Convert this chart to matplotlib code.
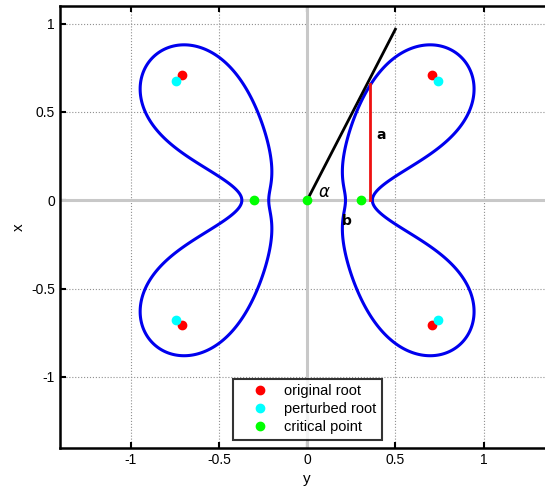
import numpy as np
import matplotlib.pyplot as plt

plt.rcParams['font.family'] = ['Liberation Sans', 'DejaVu Sans']

# roots of the original polynomial z^4 + 1
orig_re = [0.707, 0.707, -0.707, -0.707]
orig_im = [0.707, -0.707, 0.707, -0.707]
# perturbed roots
pert_re = [0.74, 0.74, -0.74, -0.74]
pert_im = [0.675, -0.675, 0.675, -0.675]
# critical points of the perturbed polynomial
crit_re = [-0.303, 0.0, 0.303]
crit_im = [0.0, 0.0, 0.0]
level = 1.0

# tangent line and the a / b segment
tan_x = [0, 0.5]
tan_y = [0, 0.968]
seg_x = [0.355, 0.355]
seg_y = [0, 0.66]

fig = plt.figure(figsize=(5.45, 4.93), dpi=100)
ax = fig.add_axes([0.110, 0.092, 0.907, 0.896])

# lemniscate |p(z)| = 1
coef = np.poly(np.array(pert_re) + 1j * np.array(pert_im))
gx, gy = np.meshgrid(np.linspace(-1.4, 1.4, 801), np.linspace(-1.4, 1.4, 801))
val = np.abs(np.polyval(coef, gx + 1j * gy))

ax.axhline(0, color='#c8c8c8', lw=2.2, zorder=1)
ax.axvline(0, color='#c8c8c8', lw=2.2, zorder=1)
ax.contour(gx, gy, val, levels=[level], colors='#0000ee', linewidths=2.2, zorder=3)

ax.plot(tan_x, tan_y, color='black', lw=2.0, zorder=4)
ax.plot(seg_x, seg_y, color='#ee1111', lw=2.0, zorder=4)

ax.plot(orig_re, orig_im, 'o', color='#ff0000', ms=6, ls='none', label='original root', zorder=5)
ax.plot(pert_re, pert_im, 'o', color='#00ffff', ms=6, ls='none', label='perturbed root', zorder=5)
ax.plot(crit_re, crit_im, 'o', color='#00ff00', ms=6, ls='none', label='critical point', zorder=5)

ax.text(0.42, 0.37, 'a', fontsize=10, fontweight='bold', ha='center', va='center', family='DejaVu Sans')
ax.text(0.225, -0.115, 'b', fontsize=10, fontweight='bold', ha='center', va='center', family='DejaVu Sans')
ax.text(0.1, 0.045, r'$\alpha$', fontsize=12, ha='center', va='center')

ax.set_xlim(-1.4, 1.4)
ax.set_ylim(-1.4, 1.1)
ax.set_xticks([-1, -0.5, 0, 0.5, 1])
ax.set_yticks([-1, -0.5, 0, 0.5, 1])
ax.set_xticklabels(['-1', '-0.5', '0', '0.5', '1'])
ax.set_yticklabels(['-1', '-0.5', '0', '0.5', '1'])
ax.grid(True, ls=':', color='#909090', lw=0.8)
ax.set_axisbelow(True)
ax.tick_params(direction='in', length=4, width=1.5, labelsize=10, top=True, right=True)
for s in ax.spines.values():
    s.set_linewidth(1.8)
ax.set_xlabel('y', fontsize=11)
ax.set_ylabel('x', fontsize=11)

leg = ax.legend(loc='lower center', bbox_to_anchor=(0.5, 0.005), fontsize=10.5, frameon=True,
                fancybox=False, edgecolor='black', handletextpad=0.2, borderpad=0.35,
                labelspacing=0.3, handlelength=3.0, borderaxespad=0.4)
leg.get_frame().set_linewidth(1.5)

fig.savefig('out.png', dpi=100)
